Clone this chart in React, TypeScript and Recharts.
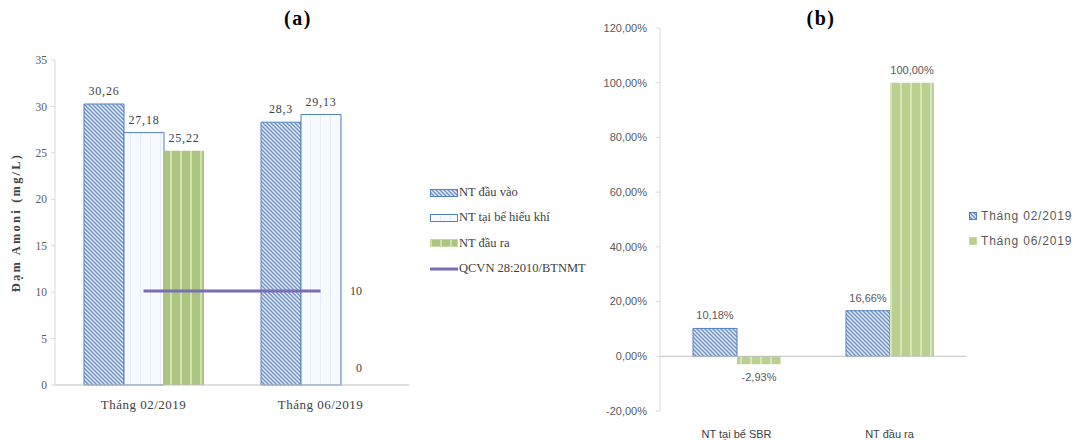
import {
  Bar,
  BarChart,
  ComposedChart,
  LabelList,
  Line,
  ReferenceLine,
  XAxis,
  YAxis,
} from 'recharts';

// (a) ammonium concentration
const monthsA = ['Tháng 02/2019', 'Tháng 06/2019'];
const ntDauVao = [30.26, 28.3];
const ntBeHieuKhi = [27.18, 29.13];
const ntDauRa: (number | null)[] = [25.22, null];
const qcvn = [10, 10];
const ticksA = [0, 5, 10, 15, 20, 25, 30, 35];
const rightTicksA = [0, 10];

// (b) removal efficiency (%)
const stagesB = ['NT tại bể SBR', 'NT đầu ra'];
const thang02 = [10.18, 16.66];
const thang06 = [-2.93, 100];
const ticksB = [-20, 0, 20, 40, 60, 80, 100, 120];

const dataA = monthsA.map((month, i) => ({
  month,
  dauVao: ntDauVao[i],
  beHieuKhi: ntBeHieuKhi[i],
  dauRa: ntDauRa[i],
  qcvn: qcvn[i],
}));

const dataB = stagesB.map((stage, i) => ({
  stage,
  t02: thang02[i],
  t06: thang06[i],
}));

const serif = '"Liberation Serif", "DejaVu Serif", serif';
const sans = '"Liberation Sans", Arial, sans-serif';

const blue = '#4f81bd';
const purple = '#7b6db4';

const fmtComma = (v: any) => (v == null ? '' : String(v).replace('.', ','));
const fmtPct = (v: any) => (v == null ? '' : `${Number(v).toFixed(2).replace('.', ',')}%`);

const labelStyleA = { fontFamily: serif, fontSize: 12, letterSpacing: 0.8, fill: '#404040' };
const labelStyleB = { fontFamily: sans, fontSize: 11, fill: '#595959' };

const Patterns = () => (
  <svg width={0} height={0} style={{ position: 'absolute' }}>
    <defs>
      <pattern id="hatchBlue" width="4" height="4" patternUnits="userSpaceOnUse">
        <rect width="4" height="4" fill="#e4ebf6" />
        <path d="M0,0 L4,4 M-1,3 L1,5 M3,-1 L5,1" stroke="#6a8fc8" strokeWidth="1.3" />
      </pattern>
      <pattern id="lightBlue" width="10" height="10" patternUnits="userSpaceOnUse">
        <rect width="10" height="10" fill="#f6f9fd" />
        <rect x="0" width="1" height="10" fill="#e6edf7" />
      </pattern>
      <pattern id="greenStripe" width="10" height="10" patternUnits="userSpaceOnUse">
        <rect width="10" height="10" fill="#abc57f" />
        <rect x="0" width="2" height="10" fill="#d0e0b2" />
      </pattern>
      <pattern id="greenStripeB" width="10" height="10" patternUnits="userSpaceOnUse">
        <rect width="10" height="10" fill="#b9d08e" />
        <rect x="0" width="2" height="10" fill="#d6e5bb" />
      </pattern>
    </defs>
  </svg>
);

const Swatch = ({ kind }: { kind: string }) => {
  if (kind === 'line') {
    return (
      <svg width={28} height={10} style={{ display: 'block' }}>
        <line x1={0} y1={5} x2={28} y2={5} stroke={purple} strokeWidth={3} />
      </svg>
    );
  }
  const fill = kind === 'hatch' ? 'url(#hatchBlue)' : kind === 'light' ? 'url(#lightBlue)' : 'url(#greenStripe)';
  const stroke = kind === 'green' ? '#c6d9a0' : blue;
  return (
    <svg width={28} height={10} style={{ display: 'block' }}>
      <rect x={0.5} y={1.5} width={27} height={7} fill={fill} stroke={stroke} />
    </svg>
  );
};

const legendA = [
  { kind: 'hatch', name: 'NT đầu vào' },
  { kind: 'light', name: 'NT tại bể hiếu khí' },
  { kind: 'green', name: 'NT đầu ra' },
  { kind: 'line', name: 'QCVN 28:2010/BTNMT' },
];

const legendB = [
  { fill: 'url(#hatchBlue)', stroke: blue, name: 'Tháng 02/2019' },
  { fill: 'url(#greenStripeB)', stroke: '#c6d9a0', name: 'Tháng 06/2019' },
];

const App = () => {
  return (
    <div style={{ position: 'absolute', left: 0, top: 0, width: 1078, height: 440, background: '#fff', overflow: 'hidden' }}>
      <Patterns />

      <div style={{ position: 'absolute', left: 268, top: 7, width: 60, textAlign: 'center', fontFamily: serif, fontWeight: 'bold', fontSize: 20, letterSpacing: 1.5, color: '#000' }}>
        (a)
      </div>
      <div style={{ position: 'absolute', left: 791, top: 7, width: 60, textAlign: 'center', fontFamily: serif, fontWeight: 'bold', fontSize: 20, letterSpacing: 1.5, color: '#000' }}>
        (b)
      </div>

      <div style={{ position: 'absolute', left: 0, top: 0 }}>
        <ComposedChart width={560} height={440} data={dataA} margin={{ top: 60, right: 151, bottom: 25, left: 0 }} barGap={0}>
          <XAxis
            dataKey="month"
            height={30}
            tickLine={false}
            axisLine={{ stroke: '#bfbfbf' }}
            tickMargin={9}
            tick={{ fontFamily: serif, fontSize: 13, letterSpacing: 0.5, fill: '#404040' }}
          />
          <YAxis
            yAxisId="left"
            width={55}
            domain={[0, 35]}
            ticks={ticksA}
            axisLine={{ stroke: '#d9d9d9' }}
            tickLine={{ stroke: '#d9d9d9' }}
            tickSize={4}
            tickMargin={4}
            tick={{ fontFamily: serif, fontSize: 11.5, fill: '#595959' }}
            label={{
              value: 'Đạm Amoni (mg/L)',
              angle: -90,
              position: 'center',
              dx: -12,
              style: { fontFamily: serif, fontSize: 12.5, letterSpacing: 2.2, fontWeight: 'bold', fill: '#404040' },
            }}
          />
          <YAxis
            yAxisId="right"
            orientation="right"
            mirror
            width={60}
            type="number"
            domain={[-2.2, 40]}
            allowDataOverflow
            ticks={rightTicksA}
            interval={0}
            axisLine={false}
            tickLine={false}
            tickSize={0}
            tickMargin={47}
            tick={{ fontFamily: serif, fontSize: 12, fill: '#404040' }}
          />
          <Bar yAxisId="left" dataKey="dauVao" name="NT đầu vào" fill="url(#hatchBlue)" stroke={blue} barSize={40} isAnimationActive={false}>
            <LabelList dataKey="dauVao" position="top" offset={9} formatter={fmtComma} style={labelStyleA} />
          </Bar>
          <Bar yAxisId="left" dataKey="beHieuKhi" name="NT tại bể hiếu khí" fill="url(#lightBlue)" stroke={blue} barSize={40} isAnimationActive={false}>
            <LabelList dataKey="beHieuKhi" position="top" offset={9} formatter={fmtComma} style={labelStyleA} />
          </Bar>
          <Bar yAxisId="left" dataKey="dauRa" name="NT đầu ra" fill="url(#greenStripe)" barSize={40} isAnimationActive={false}>
            <LabelList dataKey="dauRa" position="top" offset={9} formatter={fmtComma} style={labelStyleA} />
          </Bar>
          <Line yAxisId="right" dataKey="qcvn" name="QCVN 28:2010/BTNMT" stroke={purple} strokeWidth={3} dot={false} isAnimationActive={false} />
        </ComposedChart>
      </div>

      <div style={{ position: 'absolute', left: 430, top: 180, fontFamily: serif, fontSize: 12.5, color: '#404040' }}>
        {legendA.map((item) => (
          <div key={item.name} style={{ display: 'flex', alignItems: 'center', height: 25.3 }}>
            <Swatch kind={item.kind} />
            <span style={{ marginLeft: 1 }}>{item.name}</span>
          </div>
        ))}
      </div>

      <div style={{ position: 'absolute', left: 560, top: 0 }}>
        <BarChart width={518} height={440} data={dataB} margin={{ top: 28, right: 112, bottom: 9, left: 0 }} barGap={0}>
          <XAxis
            dataKey="stage"
            height={20}
            axisLine={false}
            tickLine={false}
            tickMargin={13}
            tick={{ fontFamily: sans, fontSize: 11, fill: '#404040' }}
          />
          <YAxis
            width={100}
            domain={[-20, 120]}
            ticks={ticksB}
            tickFormatter={fmtPct}
            axisLine={{ stroke: '#d9d9d9' }}
            tickLine={{ stroke: '#d9d9d9' }}
            tickSize={4}
            tickMargin={9}
            tick={{ fontFamily: sans, fontSize: 11, fill: '#595959' }}
          />
          <ReferenceLine y={0} stroke="#bfbfbf" />
          <Bar dataKey="t02" name="Tháng 02/2019" fill="url(#hatchBlue)" stroke={blue} barSize={44} isAnimationActive={false}>
            <LabelList dataKey="t02" position="top" offset={9} formatter={fmtPct} style={labelStyleB} />
          </Bar>
          <Bar dataKey="t06" name="Tháng 06/2019" fill="url(#greenStripeB)" barSize={44} isAnimationActive={false}>
            <LabelList dataKey="t06" position="top" offset={9} formatter={fmtPct} style={labelStyleB} />
          </Bar>
        </BarChart>
      </div>

      <div style={{ position: 'absolute', left: 968, top: 203, fontFamily: sans, fontSize: 12, letterSpacing: 0.8, color: '#595959' }}>
        {legendB.map((item) => (
          <div key={item.name} style={{ display: 'flex', alignItems: 'center', height: 25 }}>
            <svg width={10} height={10} style={{ display: 'block' }}>
              <rect x={1.5} y={1.5} width={7} height={7} fill={item.fill} stroke={item.stroke} />
            </svg>
            <span style={{ marginLeft: 3 }}>{item.name}</span>
          </div>
        ))}
      </div>
    </div>
  );
};

export default App;
